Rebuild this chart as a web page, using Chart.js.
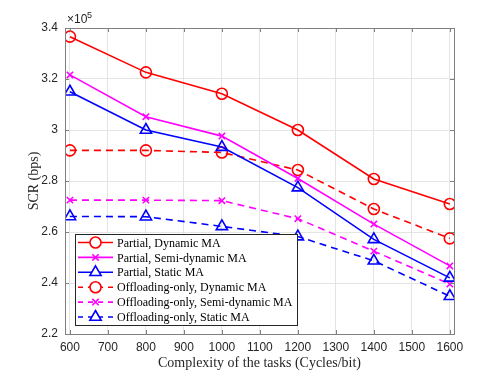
<!DOCTYPE html>
<html>
<head>
<meta charset="utf-8">
<script src="https://cdn.jsdelivr.net/npm/chart.js@4.4.1/dist/chart.umd.min.js"></script>
<style>
  html, body { margin: 0; padding: 0; background: #fff; }
  #chart { display: block; }
</style>
</head>
<body>
<canvas id="chart" width="501" height="376"></canvas>
<script>
// task complexity (Cycles/bit)
const complexity = [600, 800, 1000, 1200, 1400, 1600];

// SCR values, in units of 1e5 bps
const partialDynamic  = [3.366, 3.226, 3.142, 3.000, 2.808, 2.710];
const partialSemi     = [3.216, 3.052, 2.976, 2.810, 2.631, 2.467];
const partialStatic   = [3.150, 3.000, 2.933, 2.774, 2.571, 2.420];
const offloadDynamic  = [2.920, 2.920, 2.912, 2.843, 2.690, 2.575];
const offloadSemi     = [2.725, 2.725, 2.723, 2.652, 2.525, 2.396];
const offloadStatic   = [2.661, 2.660, 2.622, 2.582, 2.487, 2.348];

const seriesLabels = [
  'Partial, Dynamic MA',
  'Partial, Semi-dynamic MA',
  'Partial, Static MA',
  'Offloading-only, Dynamic MA',
  'Offloading-only, Semi-dynamic MA',
  'Offloading-only, Static MA'
];

const xTicks = [600, 700, 800, 900, 1000, 1100, 1200, 1300, 1400, 1500, 1600];
const yTicks = [2.2, 2.4, 2.6, 2.8, 3.0, 3.2, 3.4];

const RED = '#ff0000', MAG = '#ff00ff', BLUE = '#0000ff';
const DASH = [7, 5];

function toPoints(vals) {
  return complexity.map((x, i) => ({ x: x, y: vals[i] }));
}

function makeSet(idx, vals, color, style, dashed) {
  return {
    label: seriesLabels[idx],
    data: toPoints(vals),
    borderColor: color,
    backgroundColor: 'rgba(0,0,0,0)',
    borderWidth: 1.6,
    borderDash: dashed ? DASH : [],
    pointStyle: style,
    pointRadius: style === 'crossRot' ? 4.5 : (style === 'triangle' ? 6.5 : 5.5),
    pointBorderWidth: 1.6,
    pointBorderColor: color,
    pointBackgroundColor: 'rgba(0,0,0,0)',
    tension: 0
  };
}

const datasets = [
  makeSet(0, partialDynamic, RED, 'circle', false),
  makeSet(1, partialSemi, MAG, 'crossRot', false),
  makeSet(2, partialStatic, BLUE, 'triangle', false),
  makeSet(3, offloadDynamic, RED, 'circle', true),
  makeSet(4, offloadSemi, MAG, 'crossRot', true),
  makeSet(5, offloadStatic, BLUE, 'triangle', true)
];

// box, inward ticks, exponent label and legend drawn on top
const matlabDecor = {
  id: 'matlabDecor',
  afterDraw(chart) {
    const ctx = chart.ctx;
    const a = chart.chartArea;
    const xs = chart.scales.x, ys = chart.scales.y;
    ctx.save();
    ctx.strokeStyle = '#808080';
    ctx.lineWidth = 1;
    ctx.setLineDash([]);
    ctx.beginPath();
    xTicks.forEach(t => {
      const px = Math.round(xs.getPixelForValue(t)) + 0.5;
      ctx.moveTo(px, a.bottom); ctx.lineTo(px, a.bottom - 4);
      ctx.moveTo(px, a.top); ctx.lineTo(px, a.top + 4);
    });
    yTicks.forEach(t => {
      const py = Math.round(ys.getPixelForValue(t)) + 0.5;
      ctx.moveTo(a.left, py); ctx.lineTo(a.left + 4, py);
      ctx.moveTo(a.right, py); ctx.lineTo(a.right - 4, py);
    });
    ctx.stroke();
    ctx.strokeRect(Math.round(a.left) + 0.5, Math.round(a.top) + 0.5,
                   Math.round(a.right - a.left), Math.round(a.bottom - a.top));

    // x10^5
    ctx.fillStyle = '#262626';
    ctx.font = '12px "Liberation Sans", Arial, sans-serif';
    ctx.textBaseline = 'alphabetic';
    ctx.textAlign = 'left';
    ctx.fillText('\u00d710', a.left + 2, a.top - 5);
    ctx.font = '9px "Liberation Sans", Arial, sans-serif';
    ctx.fillText('5', a.left + 22, a.top - 10);

    // legend
    const lx = 75, ly = 234, lw = 222, lh = 91;
    ctx.fillStyle = '#ffffff';
    ctx.fillRect(lx, ly, lw, lh);
    ctx.strokeStyle = '#262626';
    ctx.lineWidth = 1;
    ctx.strokeRect(lx + 0.5, ly + 0.5, lw, lh);
    const rowH = 14.9;
    chart.data.datasets.forEach((ds, i) => {
      const cy = ly + 8.5 + i * rowH;
      ctx.strokeStyle = ds.borderColor;
      ctx.lineWidth = ds.borderWidth;
      ctx.setLineDash(ds.borderDash.length ? [5, 5] : []);
      ctx.beginPath();
      ctx.moveTo(78, cy); ctx.lineTo(113, cy);
      ctx.stroke();
      ctx.setLineDash([]);
      ctx.fillStyle = '#ffffff';
      ctx.strokeStyle = ds.borderColor;
      Chart.helpers.drawPoint(ctx, {
        pointStyle: ds.pointStyle,
        radius: ds.pointRadius,
        borderWidth: ds.pointBorderWidth
      }, 95.5, cy);
      ctx.fillStyle = '#000';
      ctx.font = '12px "Liberation Serif", "Times New Roman", serif';
      ctx.textBaseline = 'middle';
      ctx.fillText(ds.label, 117, cy + 1);
    });
    ctx.restore();
  }
};

new Chart(document.getElementById('chart').getContext('2d'), {
  type: 'line',
  data: { datasets: datasets },
  plugins: [matlabDecor],
  options: {
    responsive: false,
    animation: false,
    layout: { padding: { left: 26, right: 47, top: 28, bottom: 0 } },
    plugins: {
      legend: { display: false },
      tooltip: { enabled: false }
    },
    scales: {
      x: {
        type: 'linear',
        min: 587,
        max: 1611,
        afterFit(scale) { scale.height = 42; },
        afterBuildTicks(scale) { scale.ticks = xTicks.map(v => ({ value: v })); },
        grid: { color: '#e4e4e4', drawTicks: false },
        border: { display: false },
        ticks: {
          padding: 6,
          color: '#262626',
          font: { family: '"Liberation Sans", Arial, sans-serif', size: 12 },
          maxRotation: 0,
          autoSkip: false,
          callback: v => String(v)
        },
        title: {
          display: true,
          text: 'Complexity of the tasks (Cycles/bit)',
          color: '#262626',
          padding: { top: 0, bottom: 4 },
          font: { family: '"Liberation Serif", "Times New Roman", serif', size: 14 }
        }
      },
      y: {
        min: 2.2,
        max: 3.4,
        afterFit(scale) { scale.width = 39; },
        afterBuildTicks(scale) { scale.ticks = yTicks.map(v => ({ value: v })); },
        grid: { color: '#e4e4e4', drawTicks: false },
        border: { display: false },
        ticks: {
          padding: 7,
          color: '#262626',
          font: { family: '"Liberation Sans", Arial, sans-serif', size: 12 },
          callback: v => String(Number(v.toFixed(1)))
        },
        title: {
          display: true,
          text: 'SCR (bps)',
          color: '#262626',
          padding: { top: 0, bottom: 0 },
          font: { family: '"Liberation Serif", "Times New Roman", serif', size: 14 }
        }
      }
    }
  }
});
</script>
</body>
</html>
